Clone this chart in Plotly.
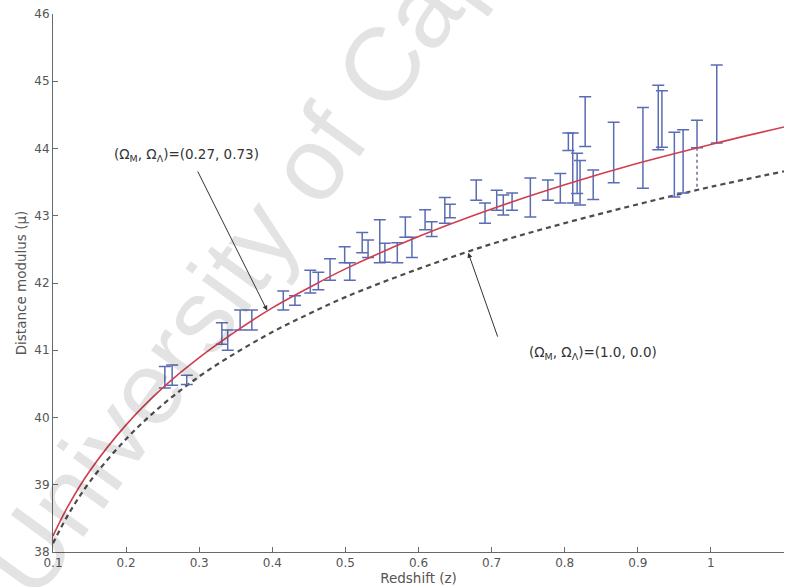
import plotly.graph_objects as go

# Model curves: distance modulus vs redshift
z_model = [0.1, 0.12, 0.15, 0.2, 0.25, 0.3, 0.35, 0.4, 0.45, 0.5, 0.6, 0.7, 0.8, 0.9, 1.0, 1.1]
mu_lcdm = [38.24, 38.67, 39.20, 39.89, 40.44, 40.89, 41.28, 41.63, 41.93, 42.21, 42.69, 43.10, 43.46, 43.78, 44.06, 44.32]
mu_eds = [38.13, 38.54, 39.04, 39.68, 40.19, 40.61, 40.96, 41.27, 41.54, 41.79, 42.21, 42.58, 42.89, 43.17, 43.43, 43.66]

# Supernova measurements: redshift, distance modulus, upper / lower errors
z_sn = [0.253, 0.263, 0.283, 0.331, 0.339, 0.356, 0.372, 0.415, 0.431, 0.452,
        0.463, 0.479, 0.499, 0.506, 0.523, 0.531, 0.547, 0.554, 0.571, 0.582,
        0.591, 0.609, 0.618, 0.636, 0.643, 0.679, 0.691, 0.707, 0.716, 0.728,
        0.753, 0.777, 0.794, 0.805, 0.811, 0.817, 0.821, 0.828, 0.839, 0.867,
        0.907, 0.928, 0.933, 0.950, 0.962, 0.981, 1.008]
mu_sn = [40.60, 40.63, 40.56, 41.25, 41.15, 41.45, 41.45, 41.74, 41.74, 42.02,
         42.03, 42.20, 42.42, 42.17, 42.60, 42.51, 42.62, 42.45, 42.45, 42.83,
         42.53, 42.94, 42.80, 43.08, 43.07, 43.38, 43.04, 43.23, 43.16, 43.21,
         43.27, 43.38, 43.41, 44.10, 43.71, 43.63, 43.49, 44.40, 43.46, 43.94,
         44.01, 44.46, 44.44, 43.76, 43.81, 44.01, 44.66]
err_up = [0.16, 0.15, 0.07, 0.16, 0.15, 0.15, 0.15, 0.14, 0.07, 0.17,
          0.13, 0.16, 0.12, 0.13, 0.15, 0.13, 0.32, 0.14, 0.15, 0.15,
          0.15, 0.15, 0.11, 0.19, 0.10, 0.15, 0.15, 0.15, 0.15, 0.13,
          0.29, 0.15, 0.22, 0.13, 0.52, 0.30, 0.33, 0.37, 0.22, 0.45,
          0.60, 0.48, 0.42, 0.48, 0.47, 0.41, 0.58]
err_dn = [0.16, 0.15, 0.07, 0.16, 0.15, 0.15, 0.15, 0.14, 0.07, 0.17,
          0.13, 0.16, 0.12, 0.13, 0.15, 0.13, 0.32, 0.14, 0.15, 0.15,
          0.15, 0.15, 0.11, 0.19, 0.10, 0.15, 0.15, 0.15, 0.15, 0.13,
          0.29, 0.15, 0.22, 0.13, 0.52, 0.30, 0.33, 0.37, 0.22, 0.45,
          0.60, 0.48, 0.42, 0.48, 0.47, 0.00, 0.58]

# Dotted lower extension of the z = 0.981 bar
z_dot = [0.981, 0.981]
mu_dot = [44.01, 43.38]

x_ticks = [0.1, 0.2, 0.3, 0.4, 0.5, 0.6, 0.7, 0.8, 0.9, 1.0, 1.1]
y_ticks = [38, 39, 40, 41, 42, 43, 44, 45, 46]

FONT = "DejaVu Sans, Liberation Sans, sans-serif"
MARK_FONT = "Liberation Sans, Arial, sans-serif"
BAR_BLUE = "#5a6cb4"

fig = go.Figure()

fig.add_trace(go.Scatter(
    x=z_model, y=mu_eds, mode="lines", line_shape="spline",
    line=dict(color="#4d4d4d", width=2.2, dash="5px,4px"),
    showlegend=False, hoverinfo="skip"))

fig.add_trace(go.Scatter(
    x=z_sn, y=mu_sn, mode="markers",
    marker=dict(size=1, color="rgba(0,0,0,0)"),
    error_y=dict(type="data", symmetric=False, array=err_up, arrayminus=err_dn,
                 color=BAR_BLUE, thickness=1.5, width=6),
    showlegend=False))

fig.add_trace(go.Scatter(
    x=z_dot, y=mu_dot, mode="lines",
    line=dict(color="#555a80", width=1.3, dash="dot"),
    showlegend=False, hoverinfo="skip"))

fig.add_trace(go.Scatter(
    x=z_model, y=mu_lcdm, mode="lines", line_shape="spline",
    line=dict(color="rgb(208,62,78)", width=1.6),
    showlegend=False, hoverinfo="skip"))

annotations = [
    # faint watermark across the plot
    dict(text="University of Cape Town", xref="paper", yref="paper",
         x=0.385, y=0.785, xanchor="center", yanchor="middle",
         textangle=-54, showarrow=False,
         font=dict(family=MARK_FONT, size=104, color="rgba(0,0,0,0.11)")),
    dict(text="(Ω<sub>M</sub>, Ω<sub>Λ</sub>)=(0.27, 0.73)", x=0.283, y=43.90,
         xref="x", yref="y", showarrow=False,
         font=dict(family=FONT, size=13.5, color="#333")),
    dict(text="", x=0.393, y=41.59, xref="x", yref="y",
         ax=0.297, ay=43.68, axref="x", ayref="y",
         showarrow=True, arrowhead=2, arrowsize=1, arrowwidth=1,
         arrowcolor="#333"),
    dict(text="(Ω<sub>M</sub>, Ω<sub>Λ</sub>)=(1.0, 0.0)", x=0.748, y=40.96,
         xref="x", yref="y", xanchor="left", showarrow=False,
         font=dict(family=FONT, size=13.5, color="#333")),
    dict(text="", x=0.668, y=42.45, xref="x", yref="y",
         ax=0.709, ay=41.18, axref="x", ayref="y",
         showarrow=True, arrowhead=2, arrowsize=1, arrowwidth=1,
         arrowcolor="#333"),
]

fig.update_layout(
    width=789, height=587,
    margin=dict(l=53, r=5, t=14, b=35),
    paper_bgcolor="white", plot_bgcolor="white",
    font=dict(family=FONT, size=12, color="#444"),
    annotations=annotations,
    showlegend=False,
)

fig.update_xaxes(
    range=[0.1, 1.1], tickvals=x_ticks, ticktext=[f"{v:g}" for v in x_ticks],
    showline=True, linecolor="#6a6a6a", linewidth=1, mirror=False,
    ticks="inside", ticklen=5, tickcolor="#6a6a6a",
    showgrid=False, zeroline=False,
    tickfont=dict(family=FONT, size=12, color="#555"),
    title=dict(text="Redshift (z)", standoff=0,
               font=dict(family=FONT, size=13.5, color="#555")))

fig.update_yaxes(
    range=[38, 46], tickvals=y_ticks,
    showline=True, linecolor="#6a6a6a", linewidth=1, mirror=False,
    ticks="inside", ticklen=5, tickcolor="#6a6a6a",
    showgrid=False, zeroline=False,
    tickfont=dict(family=FONT, size=12, color="#555"),
    title=dict(text="Distance modulus (μ)", standoff=4,
               font=dict(family=FONT, size=13.5, color="#555")))

fig.write_html("out.html")
